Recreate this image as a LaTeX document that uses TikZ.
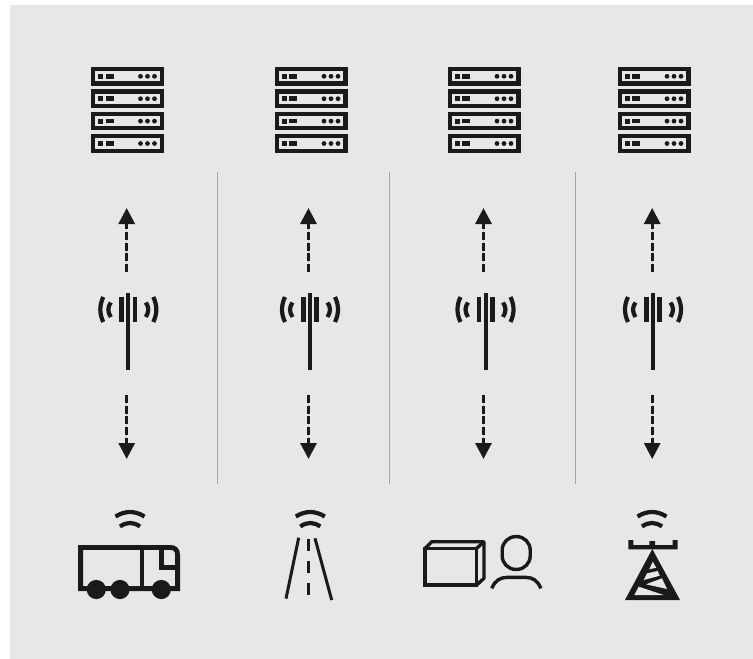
\documentclass[tikz,border=0pt]{standalone}
\usepackage{amssymb,amsmath}
\usetikzlibrary{%
  arrows.meta,%
  calc%
}
\definecolor{panel}{HTML}{E7E7E7}
\definecolor{ink}{HTML}{1A1A1A}
\definecolor{rule}{HTML}{A6A6A6}
\tikzset{>={Triangle[length=16pt,width=16pt]},
    icon/.style = {draw=ink, line width=3.4pt},
    link/.style = {draw=ink, fill=ink, line width=3pt, dash pattern=on 8pt off 2.7pt},
    divider/.style = {draw=rule, line width=0.9pt},
    wavearc/.style = {draw=ink, line width=4.2pt},
    server/.pic = {
      \foreach \r in {0,22.4,44.8,67.2} {
        \draw[ink, line width=4.2pt] (-34.4,\r+2.1) rectangle (34.4,\r+16.4);
        \fill[ink] (-29.5,\r+6.8) rectangle (-24.5,\r+11.8);
        \fill[ink] (-22,\r+7) rectangle (-14,\r+11.6);
        \foreach \d in {13,20,27} \fill[ink] (\d,\r+9.3) circle (2.4pt);
      }
    },
    mast/.pic = {
      \draw[ink, line width=4pt] (0,0) -- (0,77);
      \fill[ink] (-9,3.5) rectangle (-4.3,29);
      \fill[ink] (4.3,3.5) rectangle (9,29);
      \foreach \s in {-1,1} {
        \draw[wavearc] (\s*25,4) .. controls (\s*29,12.3) and (\s*29,20.7) .. (\s*25,29);
        \draw[wavearc] (\s*17.5,9.5) .. controls (\s*20.8,14.2) and (\s*20.8,18.8) .. (\s*17.5,24);
      }
    },
    signal/.pic = {
      \draw[wavearc] (-14.5,4.5) .. controls (-4.8,-1.5) and (4.8,-1.5) .. (14.5,4.5);
      \draw[wavearc] (-10,14.5) .. controls (-3.3,9.8) and (3.3,9.8) .. (10,14.5);
    }}
\begin{document}
\begin{tikzpicture}[x=1pt,y=-1pt]
    \useasboundingbox (0,0) rectangle (753,659);
    \fill[white] (0,0) rectangle (753,659);
    \fill[panel] (10,5) rectangle (753,659);
    % separators
    \foreach \x in {217.5,389.5,575} \draw[divider] (\x,172) -- (\x,484);
    % columns
    \foreach \i/\rx/\ax/\tx in {1/127.5/128.3/126.7,2/311/310/308.5,3/484/485.5/483.5,4/654/653/652.2} {
      \pic at (\rx,67) {server};
      \pic at (\ax,293) {mast};
      \coordinate (upfrom\i) at (\tx,272);
      \coordinate (upto\i) at (\tx,208);
      \coordinate (downfrom\i) at (\tx,395);
      \coordinate (downto\i) at (\tx,459);
      \draw[link,->] (upfrom\i) -- (upto\i);
      \draw[link,->] (downfrom\i) -- (downto\i);
    }
    % truck
    \pic at (130,512) {signal};
    \draw[icon, line width=4.8pt] (80.6,588.6) -- (80.6,547.4) -- (170,547.4) .. controls (175,547.4) and (177.6,550) .. (177.6,555) -- (177.6,588.6) -- cycle;
    \draw[icon, line width=4.4pt] (142,547.4) -- (142,588.6);
    \draw[icon, line width=4.4pt] (161.6,547.4) -- (161.6,567.6) -- (177.6,567.6);
    \foreach \w in {96.3,120,161.3} \fill[ink] (\w,589.5) circle (9.6pt);
    % road
    \pic at (310.3,512) {signal};
    \draw[icon, line width=3pt] (298.7,537.7) -- (286,598.6);
    \draw[icon, line width=3pt] (315,538.3) -- (331.7,600);
    \draw[icon, line width=3.2pt, dash pattern=on 11.5pt off 10.5pt] (308.3,539) -- (308.3,597);
    % parcel
    \draw[icon] (425,548.4) rectangle (476.6,585);
    \draw[icon, line join=round] (425,548.4) -- (431.7,541.7) -- (484,541.7) -- (484,578.3) -- (476.6,585);
    \draw[icon] (476.6,548.4) -- (484,541.7);
    % person
    \draw[icon, rounded corners=13.5pt] (502.2,536.6) rectangle (530.2,569.4);
    \draw[icon] (491.8,588.4) .. controls (495,580) and (501,577.4) .. (507,577.4) -- (526,577.4) .. controls (533,577.4) and (538,581) .. (540.8,588.4);
    % tower
    \pic at (652,512) {signal};
    \fill[ink] (628.3,540) -- (633.4,540) -- (633.4,545) -- (649.4,545) -- (649.4,541) -- (655,541) -- (655,545) -- (672.6,545) -- (672.6,540) -- (677.7,540) -- (677.7,549.4) -- (628.3,549.4) -- cycle;
    \fill[ink] (652.3,549) -- (680,600) -- (625,600) -- cycle;
    \fill[panel] (652.7,561.7) -- (656.3,567.7) -- (649.3,569.3) -- cycle;
    \fill[panel] (647,573.3) -- (657.7,571) -- (659.7,575.7) -- (643.7,580) -- cycle;
    \fill[panel] (646,584.3) -- (662,578.3) -- (667,589) -- cycle;
    \fill[panel] (634.3,595) -- (638.7,586.7) -- (663.7,595) -- cycle;
\end{tikzpicture}
\end{document}
